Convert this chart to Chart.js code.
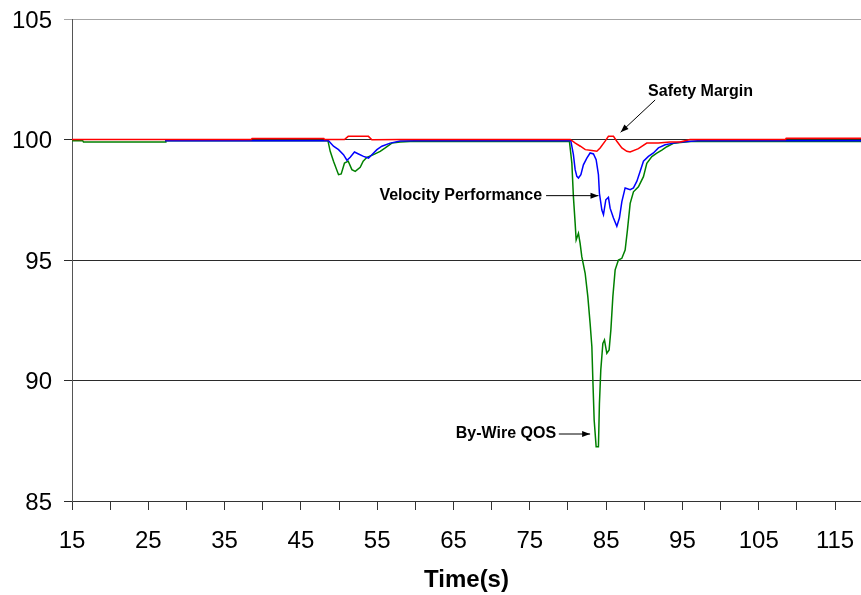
<!DOCTYPE html>
<html>
<head>
<meta charset="utf-8">
<script src="https://cdn.jsdelivr.net/npm/chart.js@4.4.1/dist/chart.umd.min.js"></script>
<style>
html,body{margin:0;padding:0;background:#fff;}
#wrap{width:861px;height:595px;position:relative;}
</style>
</head>
<body>
<div id="wrap"><canvas id="c" width="861" height="595"></canvas></div>
<script>
// ---- data ----
const xTickLabels = [15, 25, 35, 45, 55, 65, 75, 85, 95, 105, 115];
const yTickLabels = [85, 90, 95, 100, 105];

const safetyT = [15, 38.5, 38.6, 48.0, 48.1, 50.7, 51.2, 53.85, 54.3, 58, 80.3, 80.96, 81.62, 82.27, 83.13, 83.78, 84.21, 84.87, 85.3, 85.96, 86.4, 87.06, 87.71, 88.14, 89.23, 90.33, 91.85, 93.38, 94.69, 96.0, 108.5, 108.6, 118.4];
const safetyV = [100, 100, 100.04, 100.04, 100, 100, 100.13, 100.13, 99.99, 100, 100, 99.85, 99.72, 99.58, 99.54, 99.51, 99.65, 99.93, 100.13, 100.13, 99.93, 99.65, 99.51, 99.48, 99.62, 99.85, 99.85, 99.9, 99.9, 100, 100, 100.05, 100.05];

const velocityT = [27.2, 48.62, 49.27, 49.93, 50.58, 51.03, 51.46, 52.02, 52.55, 53.2, 53.86, 54.3, 54.96, 55.61, 56.7, 58.01, 60, 80.37, 80.71, 80.94, 81.16, 81.37, 81.69, 82.02, 82.47, 82.9, 83.34, 83.69, 83.99, 84.12, 84.44, 84.65, 84.96, 85.3, 85.52, 85.96, 86.4, 86.74, 87.06, 87.49, 88.15, 88.58, 89.03, 89.46, 89.89, 90.54, 91.2, 91.85, 92.73, 93.82, 94.92, 97, 118.4];
const velocityV = [99.95, 99.95, 99.72, 99.58, 99.37, 99.14, 99.26, 99.48, 99.40, 99.30, 99.23, 99.37, 99.58, 99.72, 99.85, 99.94, 99.95, 99.95, 99.37, 98.75, 98.47, 98.4, 98.54, 98.95, 99.23, 99.44, 99.4, 99.16, 98.54, 97.77, 97.07, 96.88, 97.5, 97.6, 97.15, 96.74, 96.4, 96.74, 97.42, 97.99, 97.92, 97.99, 98.27, 98.68, 99.1, 99.3, 99.44, 99.65, 99.78, 99.85, 99.9, 99.95, 99.95];

const qosT = [15, 16.4, 16.5, 27.2, 27.3, 48.54, 48.84, 49.27, 49.93, 50.28, 50.71, 51.2, 51.68, 52.12, 52.77, 53.16, 53.65, 54.51, 55.39, 56.05, 56.92, 58.0, 59.3, 80.19, 80.51, 80.71, 80.94, 81.07, 81.37, 81.59, 81.81, 82.25, 82.6, 82.9, 83.13, 83.26, 83.43, 83.69, 83.99, 84.12, 84.3, 84.57, 84.78, 85.09, 85.39, 85.62, 85.88, 86.18, 86.61, 87.06, 87.49, 87.79, 88.15, 88.58, 89.23, 89.89, 90.33, 90.99, 91.64, 92.3, 92.95, 93.82, 96, 118.4];
const qosV = [99.95, 99.95, 99.9, 99.9, 99.95, 99.95, 99.51, 99.10, 98.54, 98.57, 99.02, 99.1, 98.75, 98.68, 98.85, 99.1, 99.26, 99.37, 99.51, 99.65, 99.85, 99.9, 99.92, 99.92, 99.01, 97.63, 96.52, 95.83, 96.11, 95.69, 95.14, 94.45, 93.48, 92.37, 91.4, 90.02, 88.36, 87.25, 87.25, 89.05, 90.44, 91.54, 91.68, 91.13, 91.27, 92.1, 93.48, 94.59, 95.0, 95.07, 95.41, 96.24, 97.35, 97.83, 98.04, 98.46, 99.01, 99.29, 99.43, 99.56, 99.7, 99.84, 99.92, 99.92];

const seriesNames = ['Safety Margin', 'Velocity Performance', 'By-Wire QOS'];

// ---- annotation callouts (label anchored in data units) ----
const callouts = [
  {text: seriesNames[0], tx: 90.5, ty: 102.0, align: 'left', ax1: 91.42, ay1: 101.64, ax2: 86.9, ay2: 100.3},
  {text: seriesNames[1], tx: 76.61, ty: 97.67, align: 'right', ax1: 77.13, ay1: 97.67, ax2: 84.0, ay2: 97.67},
  {text: seriesNames[2], tx: 78.44, ty: 87.78, align: 'right', ax1: 78.8, ay1: 87.78, ax2: 82.9, ay2: 87.78}
];

const FONT = "'Liberation Sans', Arial, sans-serif";

function pts(t, v) { return t.map((x, i) => ({x: x, y: v[i]})); }

const calloutPlugin = {
  id: 'callouts',
  afterDatasetsDraw(chart) {
    const ctx = chart.ctx, xs = chart.scales.x, ys = chart.scales.y;
    ctx.save();
    ctx.font = 'bold 16px ' + FONT;
    ctx.fillStyle = '#000';
    ctx.strokeStyle = '#000';
    ctx.lineWidth = 1;
    ctx.textBaseline = 'middle';
    callouts.forEach(c => {
      ctx.textAlign = c.align;
      ctx.fillText(c.text, xs.getPixelForValue(c.tx), ys.getPixelForValue(c.ty));
      const x1 = xs.getPixelForValue(c.ax1), y1 = ys.getPixelForValue(c.ay1);
      const x2 = xs.getPixelForValue(c.ax2), y2 = ys.getPixelForValue(c.ay2);
      ctx.beginPath(); ctx.moveTo(x1, y1); ctx.lineTo(x2, y2); ctx.stroke();
      const ang = Math.atan2(y2 - y1, x2 - x1), L = 8, W = 3;
      ctx.beginPath();
      ctx.moveTo(x2, y2);
      ctx.lineTo(x2 - L * Math.cos(ang) + W * Math.sin(ang), y2 - L * Math.sin(ang) - W * Math.cos(ang));
      ctx.lineTo(x2 - L * Math.cos(ang) - W * Math.sin(ang), y2 - L * Math.sin(ang) + W * Math.cos(ang));
      ctx.closePath(); ctx.fill();
    });
    ctx.restore();
  }
};

new Chart(document.getElementById('c'), {
  type: 'line',
  data: {
    datasets: [
      {label: seriesNames[0], data: pts(safetyT, safetyV), borderColor: '#ff0000', borderWidth: 1.5, pointRadius: 0, tension: 0, order: 1},
      {label: seriesNames[1], data: pts(velocityT, velocityV), borderColor: '#0000ff', borderWidth: 1.5, pointRadius: 0, tension: 0, order: 2},
      {label: seriesNames[2], data: pts(qosT, qosV), borderColor: '#008000', borderWidth: 1.5, pointRadius: 0, tension: 0, order: 3}
    ]
  },
  options: {
    responsive: false,
    animation: false,
    layout: {padding: {top: 19, right: 0, left: 0, bottom: 0}},
    plugins: {legend: {display: false}, tooltip: {enabled: false}},
    scales: {
      x: {
        type: 'linear', min: 15, max: 118.4,
        afterFit(s) { s.height = 94; s.paddingLeft = 0; s.paddingRight = 0; },
        grid: {drawOnChartArea: false, drawTicks: true, tickLength: 9, color: '#333', lineWidth: 1},
        border: {color: '#333', width: 1},
        ticks: {
          stepSize: 5, includeBounds: false, autoSkip: false, maxRotation: 0, padding: 17,
          color: '#000', font: {family: FONT, size: 24},
          callback: v => xTickLabels.includes(v) ? String(v) : ''
        },
        title: {display: true, text: 'Time(s)', color: '#000', font: {family: FONT, size: 24, weight: 'bold'}, padding: {top: 0, bottom: 0}}
      },
      y: {
        min: 85, max: 105,
        afterFit(s) { s.width = 72; s.paddingTop = 0; s.paddingBottom = 0; },
        grid: {color: c => c.tick && c.tick.value === 105 ? '#a6a6a6' : '#2b2b2b', lineWidth: 1, tickLength: 8, drawTicks: true},
        border: {color: '#555', width: 1},
        ticks: {
          stepSize: 5, padding: 12, labelOffset: 2, color: '#000', font: {family: FONT, size: 24},
          callback: v => yTickLabels.includes(v) ? String(v) : ''
        }
      }
    }
  },
  plugins: [calloutPlugin]
});
</script>
</body>
</html>
